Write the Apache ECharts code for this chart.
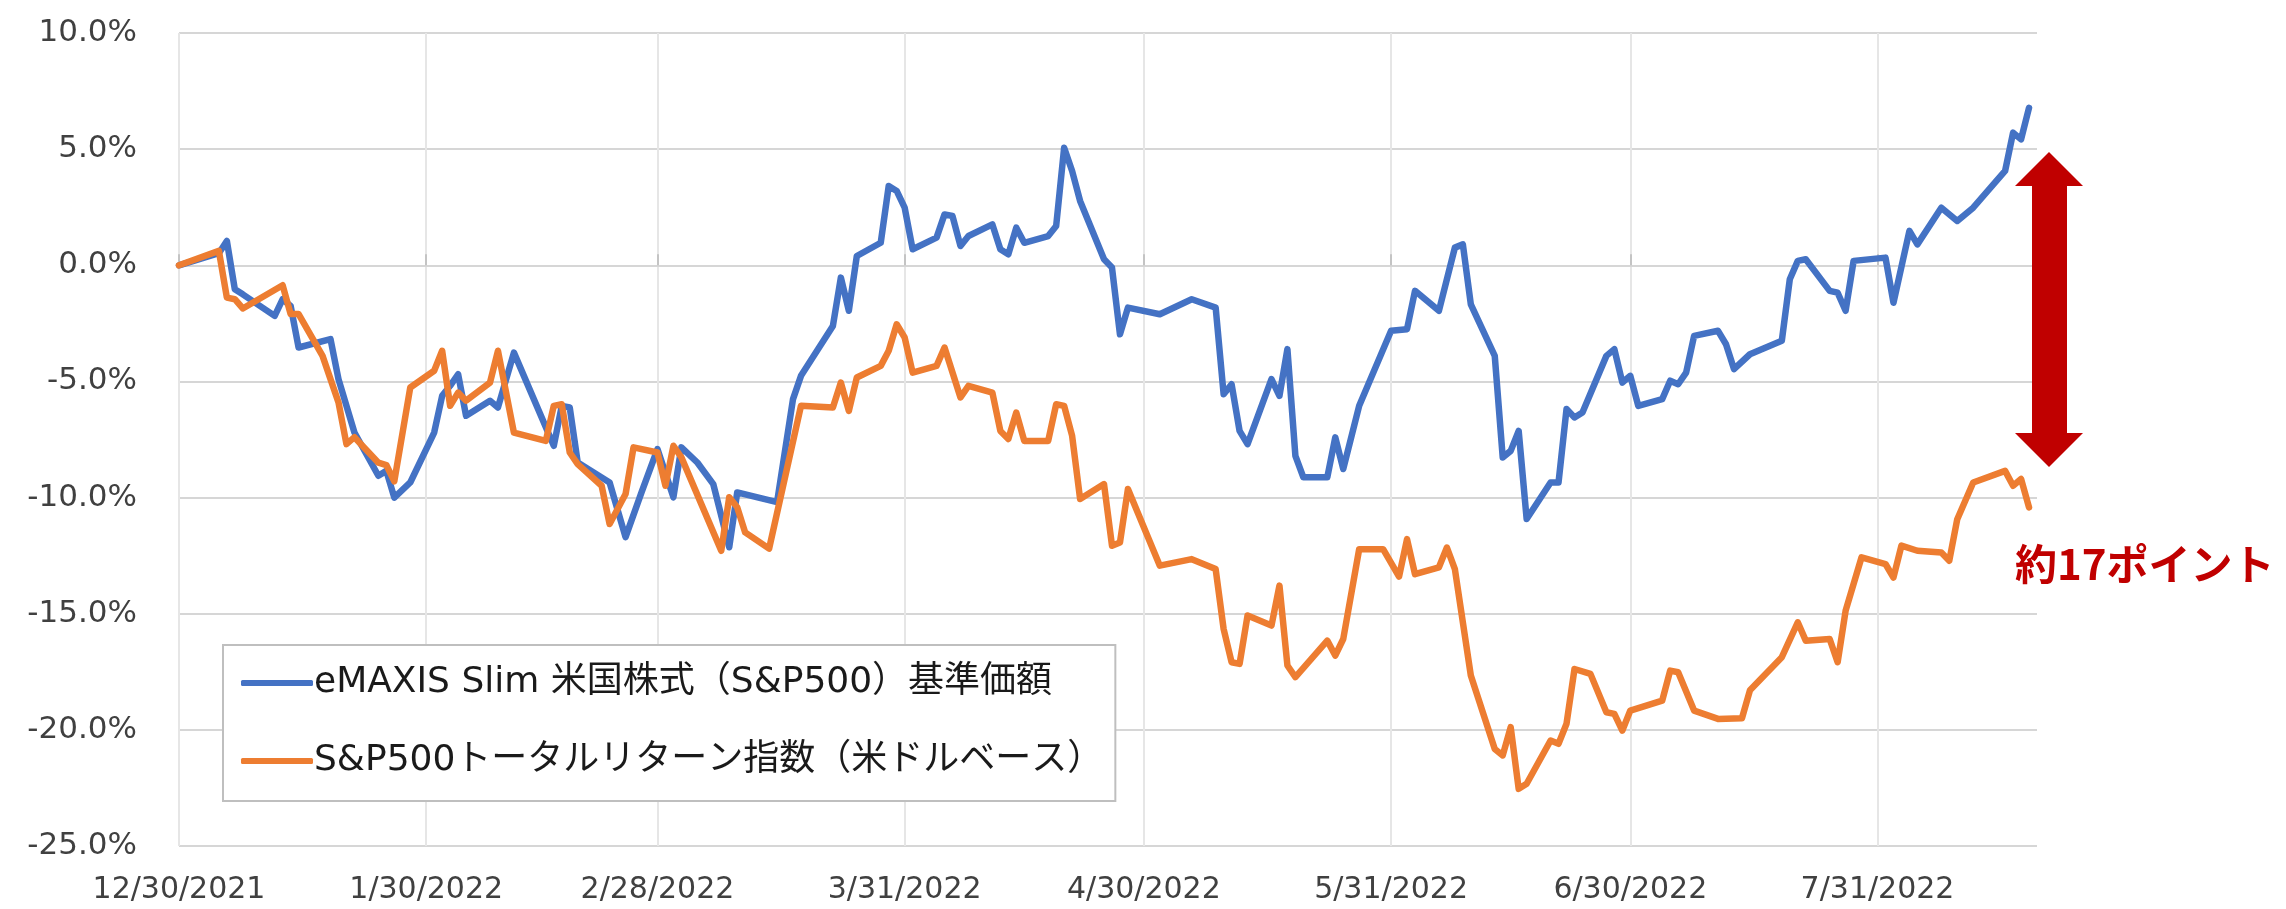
<!DOCTYPE html>
<html>
<head>
<meta charset="utf-8">
<script src="https://cdn.jsdelivr.net/npm/echarts@6/dist/echarts.min.js"></script>
<style>
html,body{margin:0;padding:0;background:#fff;}
#chart{width:2286px;height:909px;}
</style>
</head>
<body>
<div id="chart"></div>
<script>
// ---- data ----
const seriesNames = ['eMAXIS Slim 米国株式（S&P500）基準価額', 'S&P500トータルリターン指数（米ドルベース）'];

const blueDates = ['2021-12-30','2022-01-04','2022-01-05','2022-01-06','2022-01-07','2022-01-11','2022-01-12','2022-01-13','2022-01-14','2022-01-18','2022-01-19','2022-01-21','2022-01-24','2022-01-25','2022-01-26','2022-01-28','2022-01-31','2022-02-01','2022-02-02','2022-02-03','2022-02-04','2022-02-07','2022-02-08','2022-02-10','2022-02-15','2022-02-16','2022-02-17','2022-02-18','2022-02-22','2022-02-24','2022-02-26','2022-02-28','2022-03-02','2022-03-03','2022-03-05','2022-03-07','2022-03-09','2022-03-10','2022-03-15','2022-03-17','2022-03-18','2022-03-22','2022-03-23','2022-03-24','2022-03-25','2022-03-28','2022-03-29','2022-03-30','2022-03-31','2022-04-01','2022-04-04','2022-04-05','2022-04-06','2022-04-07','2022-04-08','2022-04-11','2022-04-12','2022-04-13','2022-04-14','2022-04-15','2022-04-18','2022-04-19','2022-04-20','2022-04-21','2022-04-22','2022-04-25','2022-04-26','2022-04-27','2022-04-28','2022-05-02','2022-05-06','2022-05-09','2022-05-10','2022-05-11','2022-05-12','2022-05-13','2022-05-16','2022-05-17','2022-05-18','2022-05-19','2022-05-20','2022-05-23','2022-05-24','2022-05-25','2022-05-27','2022-05-31','2022-06-02','2022-06-03','2022-06-06','2022-06-08','2022-06-09','2022-06-10','2022-06-13','2022-06-14','2022-06-15','2022-06-16','2022-06-17','2022-06-20','2022-06-21','2022-06-22','2022-06-23','2022-06-24','2022-06-27','2022-06-28','2022-06-29','2022-06-30','2022-07-01','2022-07-04','2022-07-05','2022-07-06','2022-07-07','2022-07-08','2022-07-11','2022-07-12','2022-07-13','2022-07-15','2022-07-19','2022-07-20','2022-07-21','2022-07-22','2022-07-25','2022-07-26','2022-07-27','2022-07-28','2022-08-01','2022-08-02','2022-08-04','2022-08-05','2022-08-08','2022-08-10','2022-08-12','2022-08-16','2022-08-17','2022-08-18','2022-08-19'];
const blueValues = [0,0.52,1.05,-1.03,-1.25,-2.18,-1.46,-1.75,-3.54,-3.18,-4.90,-7.20,-9.06,-8.85,-10.00,-9.35,-7.20,-5.62,-5.19,-4.69,-6.48,-5.83,-6.12,-3.76,-7.77,-6.05,-6.12,-8.49,-9.35,-11.70,-9.78,-7.91,-9.99,-7.84,-8.49,-9.42,-12.14,-9.78,-10.20,-5.76,-4.76,-2.61,-0.53,-1.96,0.40,0.97,3.41,3.20,2.48,0.69,1.19,2.19,2.12,0.83,1.26,1.76,0.69,0.47,1.62,0.97,1.26,1.69,5.06,4.06,2.77,0.26,-0.10,-2.97,-1.82,-2.11,-1.46,-1.82,-5.55,-5.12,-7.13,-7.70,-4.90,-5.62,-3.61,-8.20,-9.13,-9.13,-7.41,-8.77,-6.05,-2.82,-2.75,-1.10,-1.96,0.76,0.90,-1.68,-3.90,-8.27,-7.99,-7.13,-10.92,-9.35,-9.35,-6.19,-6.55,-6.34,-3.90,-3.61,-5.05,-4.76,-6.05,-5.76,-4.97,-5.12,-4.62,-3.04,-2.82,-3.40,-4.47,-3.83,-3.25,-0.60,0.19,0.26,-1.10,-1.18,-1.96,0.19,0.33,-1.61,1.48,0.90,2.48,1.91,2.48,4.06,5.71,5.42,6.78];

const orangeDates = ['2021-12-30','2022-01-04','2022-01-05','2022-01-06','2022-01-07','2022-01-12','2022-01-13','2022-01-14','2022-01-17','2022-01-19','2022-01-20','2022-01-21','2022-01-24','2022-01-25','2022-01-26','2022-01-28','2022-01-31','2022-02-01','2022-02-02','2022-02-03','2022-02-04','2022-02-07','2022-02-08','2022-02-10','2022-02-14','2022-02-15','2022-02-16','2022-02-17','2022-02-18','2022-02-21','2022-02-22','2022-02-24','2022-02-25','2022-02-28','2022-03-01','2022-03-02','2022-03-03','2022-03-08','2022-03-09','2022-03-10','2022-03-11','2022-03-14','2022-03-18','2022-03-22','2022-03-23','2022-03-24','2022-03-25','2022-03-28','2022-03-29','2022-03-30','2022-03-31','2022-04-01','2022-04-04','2022-04-05','2022-04-07','2022-04-08','2022-04-11','2022-04-12','2022-04-13','2022-04-14','2022-04-15','2022-04-18','2022-04-19','2022-04-20','2022-04-21','2022-04-22','2022-04-25','2022-04-26','2022-04-27','2022-04-28','2022-05-02','2022-05-06','2022-05-09','2022-05-10','2022-05-11','2022-05-12','2022-05-13','2022-05-16','2022-05-17','2022-05-18','2022-05-19','2022-05-23','2022-05-24','2022-05-25','2022-05-27','2022-05-30','2022-06-01','2022-06-02','2022-06-03','2022-06-06','2022-06-07','2022-06-08','2022-06-10','2022-06-13','2022-06-14','2022-06-15','2022-06-16','2022-06-17','2022-06-20','2022-06-21','2022-06-22','2022-06-23','2022-06-25','2022-06-27','2022-06-28','2022-06-29','2022-06-30','2022-07-04','2022-07-05','2022-07-06','2022-07-08','2022-07-11','2022-07-14','2022-07-15','2022-07-19','2022-07-21','2022-07-22','2022-07-25','2022-07-26','2022-07-27','2022-07-29','2022-08-01','2022-08-02','2022-08-03','2022-08-05','2022-08-08','2022-08-09','2022-08-10','2022-08-12','2022-08-16','2022-08-17','2022-08-18','2022-08-19'];
const orangeValues = [0,0.62,-1.39,-1.46,-1.86,-0.86,-2.10,-2.10,-3.90,-5.90,-7.70,-7.40,-8.50,-8.60,-9.30,-5.26,-4.54,-3.68,-6.05,-5.48,-5.83,-5.05,-3.68,-7.20,-7.56,-6.05,-5.98,-8.06,-8.56,-9.49,-11.14,-9.85,-7.84,-8.06,-9.49,-7.77,-8.27,-12.29,-9.99,-10.42,-11.50,-12.20,-6.05,-6.12,-5.05,-6.27,-4.83,-4.33,-3.68,-2.54,-3.11,-4.62,-4.33,-3.54,-5.69,-5.19,-5.48,-7.13,-7.48,-6.34,-7.56,-7.56,-5.98,-6.05,-7.34,-10.06,-9.42,-12.07,-11.93,-9.63,-12.93,-12.65,-13.08,-15.66,-17.09,-17.16,-15.08,-15.51,-13.79,-17.23,-17.73,-16.16,-16.80,-16.09,-12.22,-12.22,-13.40,-11.79,-13.30,-13.00,-12.15,-13.08,-17.66,-20.82,-21.10,-19.88,-22.54,-22.32,-20.46,-20.60,-19.74,-17.38,-17.59,-19.24,-19.31,-20.03,-19.17,-18.74,-17.45,-17.52,-19.17,-19.53,-19.50,-18.30,-16.87,-15.37,-16.16,-16.09,-17.09,-14.87,-12.57,-12.86,-13.44,-12.07,-12.29,-12.36,-12.72,-10.93,-9.35,-8.85,-9.49,-9.20,-10.42];

const tickDates = ['2021-12-30','2022-01-30','2022-02-28','2022-03-31','2022-04-30','2022-05-31','2022-06-30','2022-07-31'];
const tickLabels = ['12/30/2021','1/30/2022','2/28/2022','3/31/2022','4/30/2022','5/31/2022','6/30/2022','7/31/2022'];
const axisStartDate = '2021-12-30';
const axisEndDate = '2022-08-20';
const yMin = -25, yMax = 10, yStep = 5;
const annotationText = '約17ポイント';

// ---- helpers ----
function dayOf(s) {
  const p = s.split('-').map(Number);
  const q = axisStartDate.split('-').map(Number);
  return Math.round((Date.UTC(p[0], p[1]-1, p[2]) - Date.UTC(q[0], q[1]-1, q[2])) / 86400000);
}
const tickDays = tickDates.map(dayOf);
const labelByDay = {};
tickDays.forEach((d, i) => { labelByDay[d] = tickLabels[i]; });
const blueData = blueDates.map((d, i) => [dayOf(d), blueValues[i]]);
const orangeData = orangeDates.map((d, i) => [dayOf(d), orangeValues[i]]);
const xMin = dayOf(axisStartDate), xMax = dayOf(axisEndDate);

const gridTop = 33, gridBottom = 63, chartH = 909;
const plotH = chartH - gridTop - gridBottom;
const zeroOffset = -(yMax / (yMax - yMin)) * plotH; // moves a top axis down onto the 0% line

const chart = echarts.init(document.getElementById('chart'), null, {renderer: 'canvas'});
const axisFont = 'DejaVu Sans';
const legendFont = '"DejaVu Sans", "Noto Sans CJK JP", sans-serif';

chart.setOption({
  animation: false,
  backgroundColor: '#ffffff',
  grid: {left: 179, right: 249, top: gridTop, bottom: gridBottom, containLabel: false},
  xAxis: [{
    type: 'value', min: xMin, max: xMax, position: 'bottom',
    axisLine: {show: false, onZero: false},
    axisTick: {show: false, customValues: tickDays},
    axisLabel: {
      customValues: tickDays, margin: 29,
      fontFamily: axisFont, fontSize: 30, color: '#404040',
      formatter: v => labelByDay[Math.round(v)] || ''
    },
    splitLine: {show: true, lineStyle: {color: '#e6e6e6', width: 2}}
  }, {
    type: 'value', min: xMin, max: xMax, position: 'top', offset: zeroOffset,
    axisLine: {show: true, onZero: false, lineStyle: {color: '#d6d6d6', width: 2}},
    axisTick: {show: true, inside: false, length: 11, customValues: tickDays, lineStyle: {color: '#c4c4c4', width: 2}},
    axisLabel: {show: false},
    splitLine: {show: false}
  }],
  yAxis: {
    type: 'value', min: yMin, max: yMax, interval: yStep,
    axisLine: {show: false}, axisTick: {show: false},
    axisLabel: {
      margin: 42, fontFamily: axisFont, fontSize: 31, color: '#404040',
      formatter: v => v.toFixed(1) + '%'
    },
    splitLine: {show: true, lineStyle: {color: '#d6d6d6', width: 2}}
  },
  legend: {
    show: true, orient: 'vertical', left: 223, top: 645,
    data: seriesNames,
    backgroundColor: '#ffffff', borderColor: '#bfbfbf', borderWidth: 2,
    padding: [17, 12, 19, 18],
    icon: 'roundRect', itemWidth: 72, itemHeight: 6, itemGap: 36,
    textStyle: {fontFamily: legendFont, fontSize: 36, color: '#1a1a1a', padding: [0, 0, 0, -4], lineHeight: 42}
  },
  series: [{
    name: seriesNames[0], type: 'line', xAxisIndex: 0, data: blueData,
    symbol: 'none', lineStyle: {color: '#4472C4', width: 6.5, cap: 'round', join: 'round'},
    itemStyle: {color: '#4472C4'}, z: 3
  }, {
    name: seriesNames[1], type: 'line', xAxisIndex: 0, data: orangeData,
    symbol: 'none', lineStyle: {color: '#ED7D31', width: 6.5, cap: 'round', join: 'round'},
    itemStyle: {color: '#ED7D31'}, z: 4
  }],
  graphic: [{
    type: 'polygon', z: 100,
    shape: {points: [[2049,152],[2083,186],[2067,186],[2067,433],[2083,433],[2049,467],[2015,433],[2032,433],[2032,186],[2015,186]]},
    style: {fill: '#C00000'}
  }, {
    type: 'text', z: 100, left: 2015, top: 543,
    style: {text: annotationText, fill: '#C00000', font: 'bold 42px "Noto Sans CJK JP"'}
  }]
});
</script>
</body>
</html>
